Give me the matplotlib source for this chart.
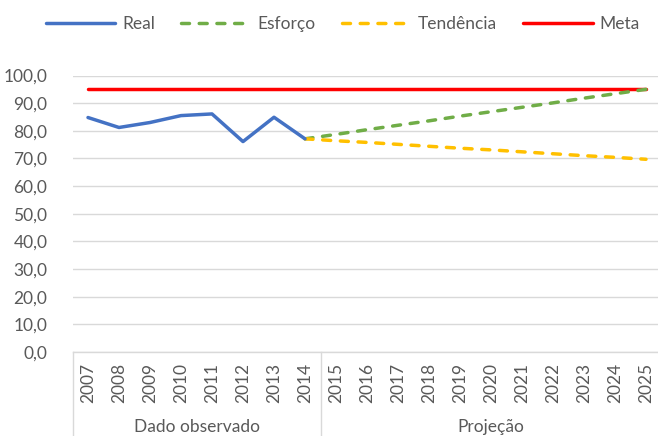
import matplotlib
matplotlib.use("Agg")
import matplotlib.pyplot as plt
from matplotlib.lines import Line2D
import matplotlib.transforms as mtransforms
from matplotlib.ticker import FuncFormatter

plt.rcParams['font.family'] = ['Lato', 'DejaVu Sans']

years = [str(y) for y in range(2007, 2026)]
real = [84.8, 81.2, 83.0, 85.5, 86.1, 76.1, 84.9, 77.1]
esforco = [77.1, 78.7, 80.4, 82.0, 83.6, 85.3, 86.9, 88.5, 90.1, 91.8, 93.4, 95.0]
tendencia = [77.1, 76.4, 75.8, 75.1, 74.4, 73.7, 73.1, 72.4, 71.7, 71.0, 70.4, 69.7]
meta = [95.0] * 19
groups = ["Dado observado", "Projeção"]
group_sizes = [8, 11]

W, H = 658, 436
fig = plt.figure(figsize=(W / 100, H / 100), dpi=100)
left_px, right_px = 72.5, 661.5
top_px, bottom_px = 75.5, 352.0
ax = fig.add_axes([left_px / W, 1 - bottom_px / H, (right_px - left_px) / W, (bottom_px - top_px) / H])

grey_txt = '#595959'
grid_c = '#D9D9D9'

x_real = list(range(0, len(real)))
x_proj = list(range(len(real) - 1, len(real) - 1 + len(esforco)))
x_meta = list(range(len(meta)))

lw = 2.5
ax.plot(x_real, real, color='#4472C4', lw=lw, solid_joinstyle='round', solid_capstyle='round', label='Real', zorder=4)
ax.plot(x_proj, esforco, color='#70AD47', lw=lw, dashes=(2.3, 2.8), dash_capstyle='round', label='Esforço', zorder=3)
ax.plot(x_proj, tendencia, color='#FFC000', lw=lw, dashes=(2.3, 2.8), dash_capstyle='round', label='Tendência', zorder=3)
ax.plot(x_meta, meta, color='#FF0000', lw=lw, solid_capstyle='round', label='Meta', zorder=2)

ax.set_xlim(-0.5, len(years) - 0.5)
ax.set_ylim(0, 100)
ax.set_yticks(range(0, 101, 10))
ax.yaxis.set_major_formatter(FuncFormatter(lambda v, p: f"{v:.1f}".replace('.', ',')))
ax.set_xticks(range(len(years)))
ax.set_xticklabels(years, rotation=90, va='top', ha='center')
ax.tick_params(axis='both', length=0, colors=grey_txt, labelsize=12.5)
ax.tick_params(axis='y', pad=18)
ax.tick_params(axis='x', pad=8)
ax.grid(axis='y', color=grid_c, lw=1)
ax.set_axisbelow(True)
for s in ['top', 'right', 'left']:
    ax.spines[s].set_visible(False)
ax.spines['bottom'].set_color(grid_c)
ax.spines['bottom'].set_linewidth(1)

trans = mtransforms.blended_transform_factory(ax.transData, ax.transAxes)
ybot = (bottom_px - 440) / (bottom_px - top_px)
ylab = (bottom_px - 427) / (bottom_px - top_px)
start = -0.5
for g, n in zip(groups, group_sizes):
    ax.add_line(Line2D([start, start], [0, ybot], transform=trans, color=grid_c, lw=1, clip_on=False))
    ax.text(start + n / 2, ylab, g, transform=trans, ha='center', va='center', color=grey_txt, fontsize=12.5)
    start += n
ax.add_line(Line2D([start, start], [0, ybot], transform=trans, color=grid_c, lw=1, clip_on=False))

fig.legend(loc='center', bbox_to_anchor=(343 / W, 1 - 24 / H), ncol=4, frameon=False,
           fontsize=12.5, handlelength=4.0, handletextpad=0.4, columnspacing=1.5,
           labelcolor=grey_txt)

fig.savefig('out.png', dpi=100)
